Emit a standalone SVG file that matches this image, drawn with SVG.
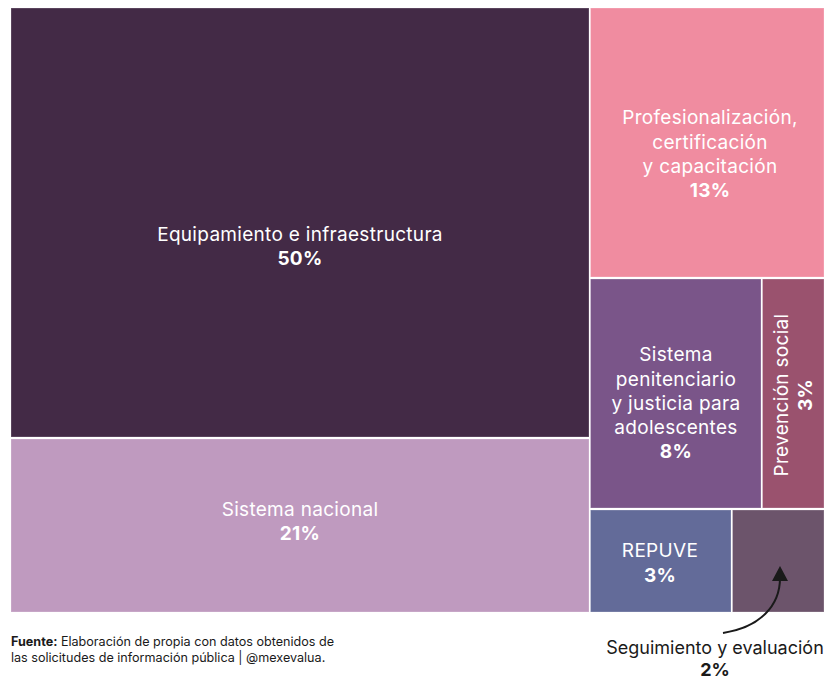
<svg xmlns="http://www.w3.org/2000/svg" width="829" height="679" viewBox="0 0 829 679">
<defs>
<style>
.lbl{font-family:Inter,"Noto Sans",sans-serif;font-size:19px;letter-spacing:0.3px;fill:#ffffff;text-anchor:middle}
.pct{font-weight:700}
.blk{font-family:Inter,"Noto Sans",sans-serif;font-size:18px;fill:#1a1a1a;text-anchor:middle}
.src{font-family:Inter,"Noto Sans",sans-serif;font-size:12.6px;fill:#1a1a1a}
.cell{stroke:#ffffff;stroke-opacity:0.25;stroke-width:1}
</style>
</defs>
<rect width="829" height="679" fill="#ffffff"/>
<g id="equipamiento">
<rect class="cell" x="11" y="8" width="578" height="429" fill="#432a46"/>
<text class="lbl" x="300" y="241">Equipamiento e infraestructura</text>
<text class="lbl pct" x="300" y="265">50%</text>
</g>
<g id="sistema-nacional">
<rect class="cell" x="11" y="439" width="578" height="173" fill="#bf9abf"/>
<text class="lbl" x="300" y="516">Sistema nacional</text>
<text class="lbl pct" x="300" y="540">21%</text>
</g>
<g id="profesionalizacion">
<rect class="cell" x="590.5" y="8" width="233.5" height="269" fill="#f08ca0"/>
<text class="lbl" x="710" y="124">Profesionalización,</text>
<text class="lbl" x="710" y="149">certificación</text>
<text class="lbl" x="710" y="173">y capacitación</text>
<text class="lbl pct" x="710" y="197">13%</text>
</g>
<g id="penitenciario">
<rect class="cell" x="590.5" y="279" width="170.5" height="229" fill="#7a5589"/>
<text class="lbl" x="676" y="361">Sistema</text>
<text class="lbl" x="676" y="386">penitenciario</text>
<text class="lbl" x="676" y="410">y justicia para</text>
<text class="lbl" x="676" y="434">adolescentes</text>
<text class="lbl pct" x="676" y="458">8%</text>
</g>
<g id="prevencion">
<rect class="cell" x="762.5" y="279" width="61.5" height="229" fill="#9a526e"/>
<text class="lbl" transform="translate(788,395) rotate(-90)">Prevención social</text>
<text class="lbl pct" transform="translate(812,395) rotate(-90)">3%</text>
</g>
<g id="repuve">
<rect class="cell" x="590.5" y="510" width="140.5" height="102" fill="#636b99"/>
<text class="lbl" x="660" y="557">REPUVE</text>
<text class="lbl pct" x="660" y="582">3%</text>
</g>
<g id="seguimiento">
<rect class="cell" x="732.5" y="510" width="91.5" height="102" fill="#6c546b"/>
<text class="blk" x="715" y="654">Seguimiento y evaluación</text>
<text class="blk pct" x="715" y="676">2%</text>
</g>
<g id="connectors">
<path d="M723,633 C760,627 780,606 780,578" fill="none" stroke="#1a1a1a" stroke-width="2"/>
<path d="M780,566 L788,581 L772,581 z" fill="#1a1a1a"/>
</g>
<g id="source">
<text class="src" x="11" y="646"><tspan font-weight="700">Fuente:</tspan> Elaboración de propia con datos obtenidos de</text>
<text class="src" x="11" y="662">las solicitudes de información pública | @mexevalua.</text>
</g>
</svg>
